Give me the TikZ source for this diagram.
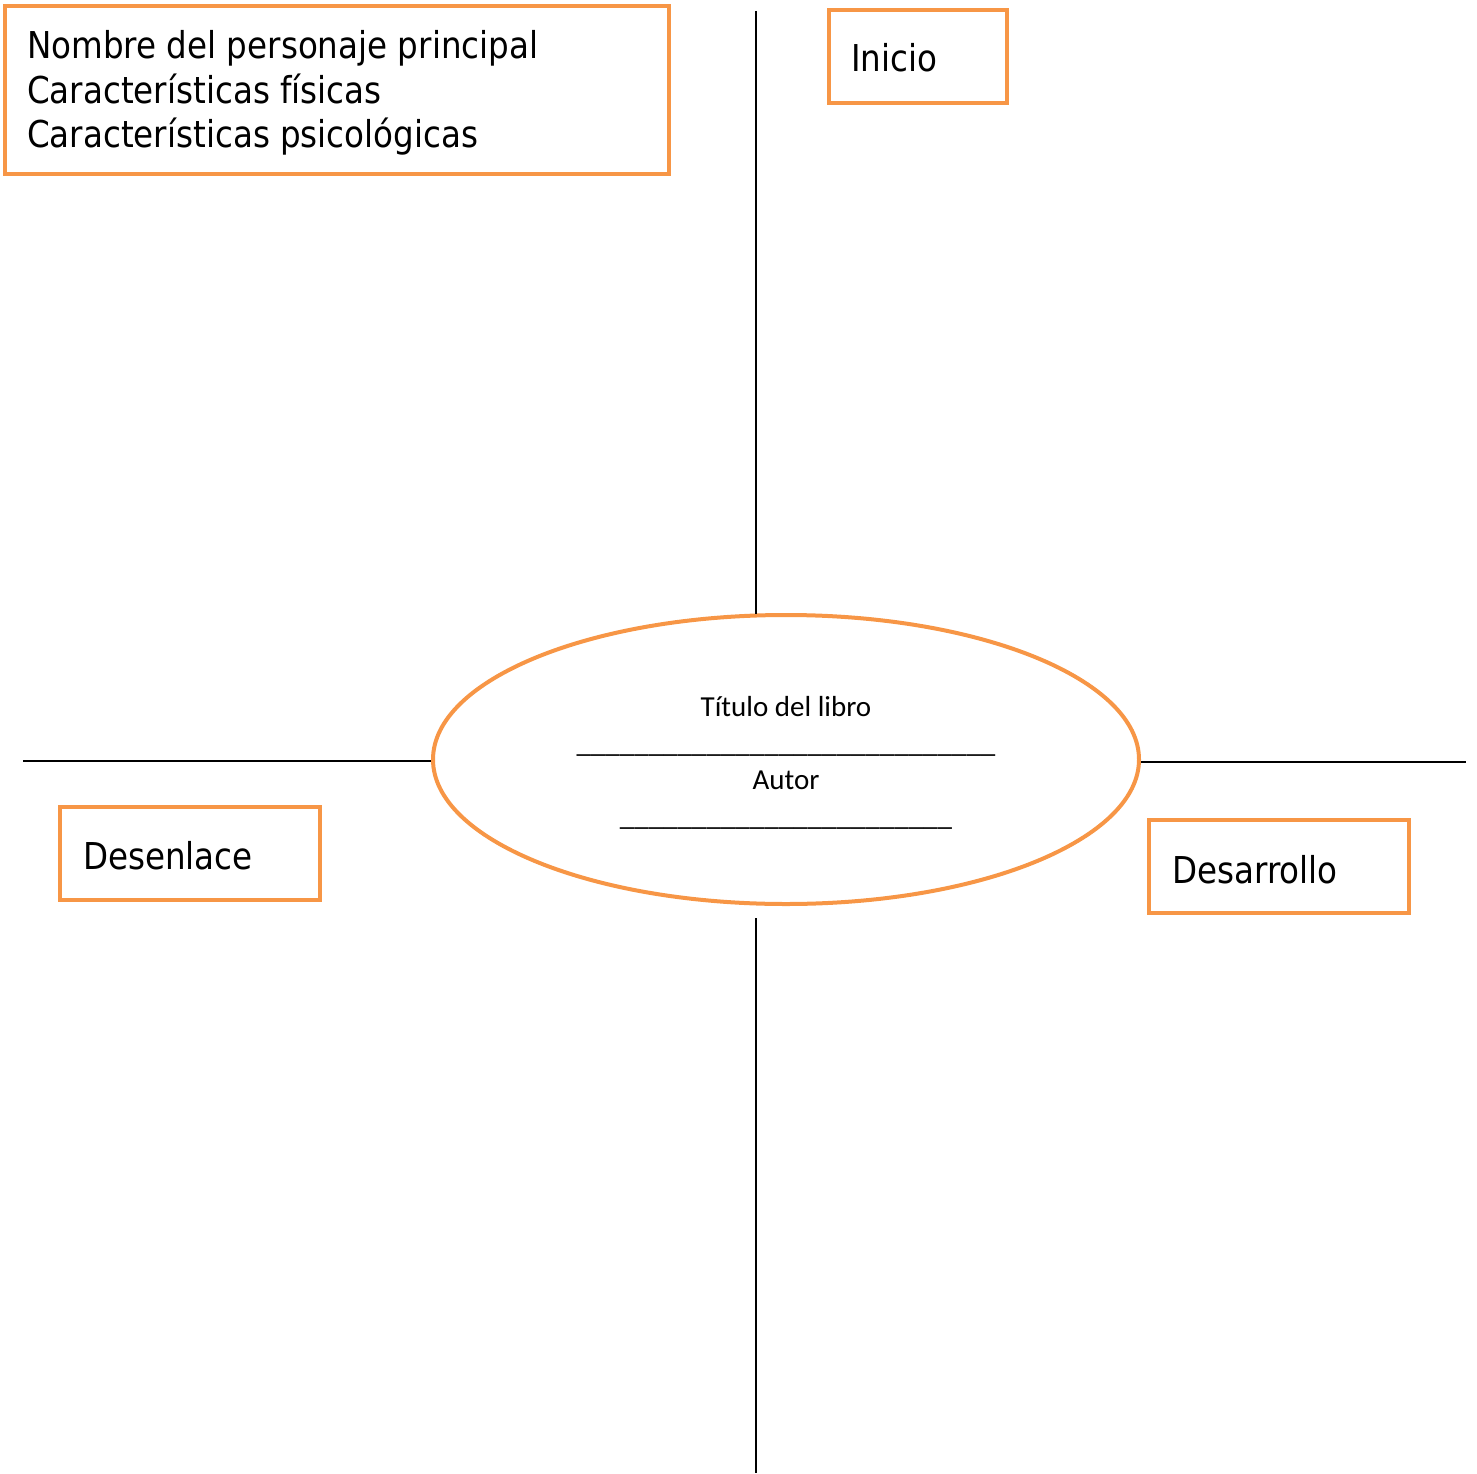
\documentclass[tikz,border=0pt]{standalone}
\usepackage{fontspec}
\usetikzlibrary{shapes.geometric}
\newfontfamily\boxfont[FakeStretch=0.88]{DejaVu Sans}
\newfontfamily\centfont{Carlito}
\definecolor{accorange}{HTML}{F79646}
\tikzset{
  obox/.style={draw=accorange, line width=4pt, rectangle, inner sep=0pt},
  blabel/.style={anchor=base west, inner sep=0pt, font=\boxfont\fontsize{37}{44.5}\selectfont},
  clabel/.style={anchor=base, inner sep=0pt, font=\centfont\fontsize{29}{36}\selectfont},
  axis/.style={draw=black, line width=2pt}
}
\begin{document}
\begin{tikzpicture}[x=1pt, y=-1pt]
\useasboundingbox (0,0) rectangle (1477,1474);
% boxes
\node[obox, minimum width=664pt, minimum height=168pt] (pers) at (337,90.5) {};
\node[blabel, align=left] (perst) at (27,148) {Nombre del personaje principal\\Características físicas\\Características psicológicas};
\node[obox, minimum width=178pt, minimum height=93pt] (ini) at (918,56.5) {};
\node[blabel] (init) at (851,72) {Inicio};
\node[obox, minimum width=260pt, minimum height=93pt] (des) at (190,853.5) {};
\node[blabel] (dest) at (83,869) {Desenlace};
\node[obox, minimum width=260pt, minimum height=93pt] (dsr) at (1279,866.5) {};
\node[blabel] (dsrt) at (1172,883) {Desarrollo};
% ellipse
\node[ellipse, draw=accorange, line width=4pt, minimum width=706pt, minimum height=289pt, inner sep=0pt] (ell) at (786,759.5) {};
\node[clabel] (tit) at (786,716) {Título del libro};
\node[clabel] (u1) at (786,752) {\_\_\_\_\_\_\_\_\_\_\_\_\_\_\_\_\_\_\_\_\_\_\_\_\_\_\_\_\_};
\node[clabel] (aut) at (786,789) {Autor};
\node[clabel] (u2) at (786,825) {\_\_\_\_\_\_\_\_\_\_\_\_\_\_\_\_\_\_\_\_\_\_\_};
% axes
\coordinate (vt) at (756,11);
\coordinate (vte) at (756,614);
\coordinate (vb) at (756,918);
\coordinate (vbe) at (756,1473);
\coordinate (hl) at (23,761);
\coordinate (hle) at (431,761);
\coordinate (hr) at (1141,762);
\coordinate (hre) at (1466,762);
\draw[axis] (vt) -- (vte);
\draw[axis] (vb) -- (vbe);
\draw[axis] (hl) -- (hle);
\draw[axis] (hr) -- (hre);
\end{tikzpicture}
\end{document}
